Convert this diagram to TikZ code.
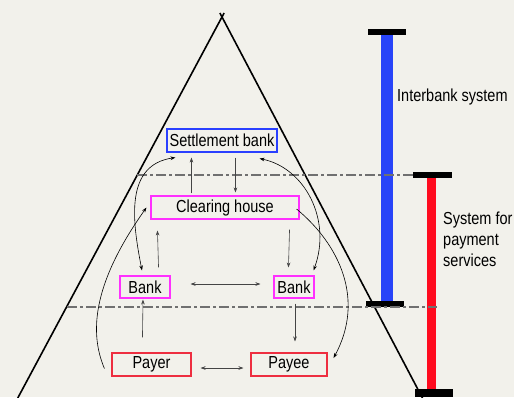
\documentclass[tikz,border=0pt]{standalone}
\usepackage{fontspec}
\setmainfont{Liberation Sans}
\usepackage{graphicx}
\usetikzlibrary{arrows.meta,calc}
\definecolor{bgc}{HTML}{F2F1EB}
\definecolor{sbblue}{HTML}{2A40FF}
\definecolor{mag}{HTML}{FF30FF}
\definecolor{boxred}{HTML}{EE2E40}
\definecolor{barblue}{HTML}{2844F8}
\definecolor{barred}{HTML}{FF0A1E}
\definecolor{dashgray}{HTML}{707070}
\definecolor{arrgray}{HTML}{444444}
\newcommand{\tx}[1]{\scalebox{1}[1.2]{#1}}
\begin{document}
\begin{tikzpicture}[x=1pt,y=-1pt,
  every node/.style={font=\fontsize{14.5}{17.5}\selectfont},
  boxnode/.style={draw, line width=1.1pt, inner sep=0pt, fill=bgc},
  thinarr/.style={draw=arrgray, line width=0.6pt, -{Stealth[length=5pt,width=3.6pt]}},
  thinboth/.style={draw=arrgray, line width=0.6pt, {Stealth[length=5pt,width=3.6pt]}-{Stealth[length=5pt,width=3.6pt]}},
  curvarr/.style={draw=black, line width=0.6pt, -{Stealth[length=5pt,width=3.6pt]}},
  curvboth/.style={draw=black, line width=0.6pt, {Stealth[length=5pt,width=3.6pt]}-{Stealth[length=5pt,width=3.6pt]}},
  dashline/.style={draw=dashgray, line width=1.3pt, dash pattern=on 10pt off 3pt on 3pt off 3pt},
  capbar/.style={fill=black}]
\fill[bgc] (0,0) rectangle (514,397);
\useasboundingbox (0,0) rectangle (514,397);
\begin{scope}
\clip (0,0) rectangle (514,397);
% triangle
\draw[line width=1.6pt] (16.7,400) -- (224.1,13);
\draw[line width=1.6pt] (219.9,13) -- (423.5,400);
% bars
\fill[barblue] (381,34) rectangle (393,302);
\fill[capbar] (368,29) rectangle (406,35);
\fill[capbar] (366,301) rectangle (404,307);
\fill[barred] (427,177) rectangle (436,390);
\fill[capbar] (413,172) rectangle (452,178);
\fill[capbar] (415,389) rectangle (453,397);
% dash-dot lines
\draw[dashline] (137,175) -- (413,175);
\draw[dashline] (67,307) -- (437,307);
\end{scope}
% nodes
\node[boxnode, draw=sbblue, minimum width=110pt, minimum height=23pt] (sb) at (222,140.5) {\tx{Settlement bank}};
\node[boxnode, draw=mag, minimum width=148pt, minimum height=23pt] (cl) at (225,207.5) {\tx{Clearing house}};
\node[boxnode, draw=mag, minimum width=50pt, minimum height=22pt] (bl) at (145,287) {\tx{Bank}};
\node[boxnode, draw=mag, minimum width=40pt, minimum height=22pt] (br) at (294,287) {\tx{Bank}};
\node[boxnode, draw=boxred, minimum width=79pt, minimum height=23pt] (pa) at (151.5,364.5) {\tx{Payer}};
\node[boxnode, draw=boxred, minimum width=76pt, minimum height=23pt] (pe) at (289,364.5) {\tx{Payee}};
% labels
\node[anchor=base west, inner sep=0pt] (ibs) at (397,101) {\tx{Interbank system}};
\node[anchor=base west, inner sep=0pt] (sps) at (443,224) {\tx{\begin{tabular}[t]{@{}l@{}}System for\\payment\\services\end{tabular}}};
% straight arrows
\draw[thinarr] ($(cl.north west)+(41,-2)$) -- ($(sb.south west)+(25,5)$);
\draw[thinarr] ($(sb.south west)+(69,5)$) -- ($(cl.north west)+(85,-3)$);
\draw[thinarr] ($(bl.north east)+(-12,-8)$) -- ($(cl.south west)+(7,11)$);
\draw[thinarr] ($(cl.south east)+(-10,10)$) -- ($(br.north west)+(15,-8)$);
\draw[thinboth] ($(bl.east)+(20,-3)$) -- ($(br.west)+(-13,-3)$);
\draw[thinarr] ($(pa.north west)+(31,-15)$) -- ($(bl.south)+(-2,1)$);
\draw[thinarr] ($(br.south)+(1,5)$) -- ($(pe.north)+(6,-11)$);
\draw[thinboth] ($(pa.east)+(9,3.5)$) -- ($(pe.west)+(-7,3.5)$);
% curved arrows
\draw[curvboth] ($(bl.north)+(-3,-5)$) .. controls (132,220) and (125,165) .. ($(sb.south west)+(9,5)$);
\draw[curvboth] ($(sb.south east)+(-18,6)$) .. controls (305,168) and (332,220) .. ($(br.north east)+(-1,-5)$);
\draw[curvarr] ($(pa.south west)+(-7,-8)$) .. controls (88,330) and (95,280) .. ($(cl.south west)+(-4,-12)$);
\draw[curvarr] ($(cl.east)+(-3,1.5)$) .. controls (340,245) and (365,300) .. ($(pe.east)+(6,-6.5)$);
\end{tikzpicture}
\end{document}
